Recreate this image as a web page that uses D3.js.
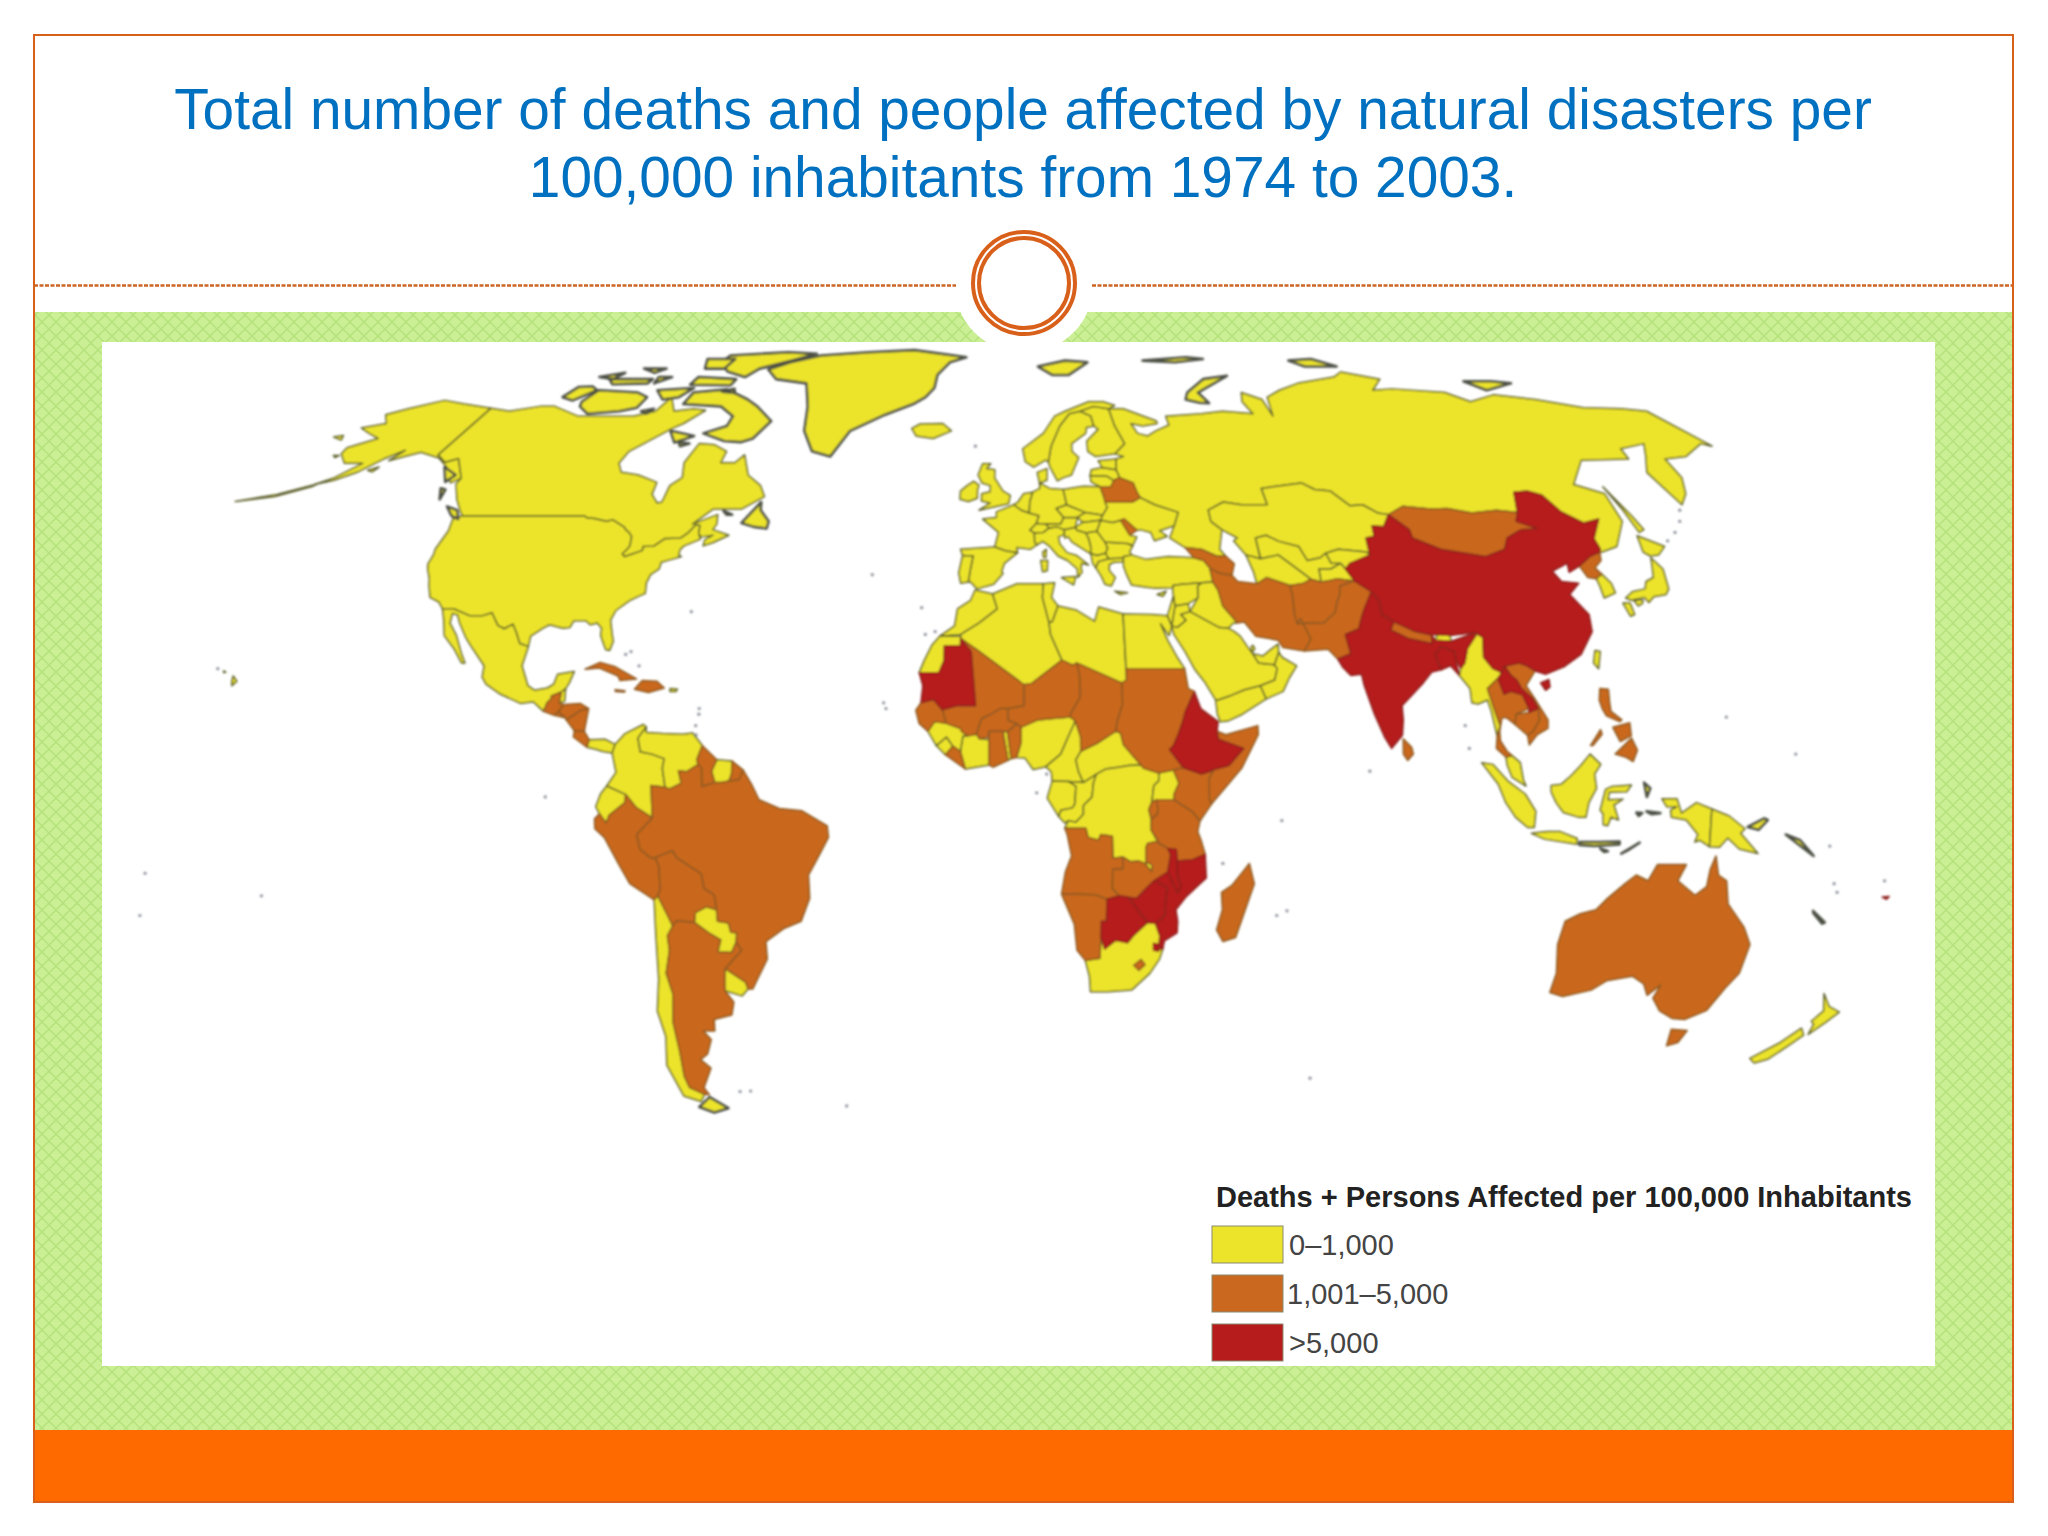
<!DOCTYPE html>
<html>
<head>
<meta charset="utf-8">
<script src="https://cdn.jsdelivr.net/npm/d3@7"></script>
<style>
  html, body { margin: 0; padding: 0; background: #fff; }
  svg { display: block; }
  text { font-family: "Liberation Sans", Arial, sans-serif; }
</style>
</head>
<body>
<svg id="svg" width="2048" height="1536"></svg>
<script>
/* DATA */
const titleLines = ['Total number of deaths and people affected by natural disasters per', '100,000 inhabitants from 1974 to 2003.'];
const legendTitle = 'Deaths + Persons Affected per 100,000 Inhabitants';
const legendLabels = ['0–1,000', '1,001–5,000', '>5,000'];
const bandColors = ['#ECE42B', '#C9681E', '#B61C1C'];
const bandStrokes = ['#5c5e2a', '#8c5a22', '#8e2420'];

// outlines in lon/lat, one list per legend band
const lowLand = [
  ['USA', [-124.7,48.4],[-123,49],[-95.2,49],[-94.6,48.7],[-92.6,48.5],[-89.6,48],[-88.4,48.3],[-84.9,46.9],[-84.5,46.5],[-83.6,46.1],[-82.5,45.3],[-82.1,43.6],[-82.4,43],[-83.1,42.2],[-82.4,41.7],[-79,42.8],[-79.2,43.5],[-76.8,43.6],[-75,44.9],[-71.5,45],[-70.3,45.9],[-69.2,47.4],[-68.2,47.3],[-67.8,45.7],[-67,44.8],[-70.2,43.6],[-70.8,42.9],[-70.7,41.9],[-70,41.7],[-72,41.2],[-74,40.7],[-74,39.5],[-75.5,38.5],[-75.9,37],[-75.5,35.2],[-77,34.6],[-78.5,33.9],[-80.8,32.2],[-81.4,30.5],[-80.5,28],[-80,26.8],[-80.4,25.2],[-81.2,25.3],[-81.8,26.2],[-82.8,27.8],[-82.9,29.1],[-84,30],[-85.4,29.7],[-86.5,30.4],[-89,30.4],[-89.5,29.2],[-90.9,29.1],[-93.8,29.7],[-95,29.1],[-97.2,27.7],[-97.2,25.9],[-99.1,26.4],[-100.3,28.3],[-101.4,29.8],[-103,29],[-104.5,29.6],[-106.5,31.8],[-108.2,31.3],[-111,31.3],[-114.8,32.5],[-117.1,32.5],[-118.4,33.7],[-120.6,34.5],[-121.9,36.6],[-122.5,37.8],[-123.8,39.5],[-124.3,40.4],[-124.2,42],[-124.5,43],[-124,46.3]],
  ['Alaska', [-141,69.6],[-141,60.3],[-137.5,58.9],[-135,59.6],[-130,55.9],[-131.5,55],[-134,56.5],[-136,58],[-140,59.7],[-146,60.8],[-149,60],[-151.8,59.2],[-150.5,61.2],[-153.5,59.5],[-156.5,57],[-160,55.5],[-163.5,54.7],[-160.5,56],[-157.5,58.7],[-162,58.7],[-165.5,60.5],[-166,61.7],[-161,63.5],[-165,64.5],[-169,65.6],[-164,66.5],[-167.5,68.3],[-163.5,69.5],[-157,71.3],[-150,70.5]],
  ['Aleutians', [-163,54.8],[-170,52.9],[-178,51.6],[-170,52.5],[-163.5,54.4]],
  ['St Lawrence', [-173,63.8],[-170,63.2],[-171,64.1]],
  ['Nunivak', [-167,60.2],[-165.5,60.2],[-166,59.8]],
  ['Kodiak', [-154.5,57.4],[-152.5,58],[-153,57.1]],
  ['Hawaii', [-156,20.7],[-155,19.8],[-155.8,19],[-156,19.7]],
  ['Oahu', [-158.2,21.6],[-157.7,21.4],[-158.1,21.3]],
  ['Canada', [-141,69.6],[-135,69],[-128,70],[-124,70],[-115,68],[-108,68],[-100,68],[-95,69],[-94,72],[-90,69],[-85,69.5],[-81.5,69.2],[-85,66.5],[-87,65.5],[-94,61],[-94.5,58.7],[-92.5,57],[-88,56.5],[-82.5,55.1],[-82.2,52.9],[-80,51.3],[-79,51.5],[-79,54.5],[-77,56],[-78.5,58.8],[-77.5,62.5],[-73.5,62.3],[-69.5,61],[-69.5,58.8],[-66,58.8],[-64.5,60.3],[-61.5,56.5],[-57.5,54.5],[-55.7,52.5],[-60,50.2],[-66.5,50.2],[-70,47.5],[-65,49.2],[-64.5,47.5],[-65,46.5],[-61,45.5],[-64,44.2],[-66,43.6],[-66,44.7],[-64.5,45.5],[-67,45.2],[-67.8,45.7],[-68.2,47.3],[-69.2,47.4],[-70.3,45.9],[-71.5,45],[-75,44.9],[-76.8,43.6],[-79.2,43.5],[-79,42.8],[-82.4,41.7],[-83.1,42.2],[-82.4,43],[-82.1,43.6],[-82.5,45.3],[-83.6,46.1],[-84.5,46.5],[-84.9,46.9],[-88.4,48.3],[-89.6,48],[-92.6,48.5],[-94.6,48.7],[-95.2,49],[-123,49],[-124,49.7],[-127,52],[-130,54.8],[-130,55.9],[-135,59.6],[-137.5,58.9],[-141,60.3]],
  ['Iceland', [-24,65.5],[-22,66.4],[-16,66.5],[-13.5,65],[-18,63.5],[-22.5,64]],
  ['Mexico', [-117.1,32.5],[-114.8,32.5],[-111,31.3],[-108.2,31.3],[-106.5,31.8],[-104.5,29.6],[-103,29],[-101.4,29.8],[-100.3,28.3],[-99.1,26.4],[-97.2,25.9],[-97.8,22.5],[-96,19],[-94.5,18.2],[-92,18.6],[-90.8,19.3],[-90.3,21],[-87,21.5],[-87.7,19.5],[-88.3,18.5],[-89.1,17.9],[-91,17.2],[-90.9,16.8],[-91.7,16],[-92.2,14.5],[-94.5,16.2],[-97,15.9],[-101.5,17.6],[-104.5,19.3],[-105.5,20.5],[-105.5,22.5],[-109,26],[-110.5,27.5],[-112.5,30],[-113.5,31.4],[-114.7,31.7],[-114.5,30],[-112.5,27.8],[-110.5,24.5],[-109.5,23],[-110.2,23],[-112.3,25.5],[-115,27.8],[-116,30.5]],
  ['Belize', [-89.1,17.9],[-88.3,18.5],[-88.2,16.3],[-89.2,15.9]],
  ['Panama', [-82.6,9.5],[-79.5,9.6],[-77.4,8.7],[-77.9,7.2],[-80,7.5],[-81,7.8],[-83,8.2]],
  ['Puerto Rico', [-67.2,18.5],[-65.7,18.4],[-66,18],[-67.2,18]],
  ['Colombia', [-77.4,8.7],[-75.5,10.6],[-72,12.2],[-71.4,11.8],[-72.9,9.8],[-72.3,7.4],[-70,7],[-67.5,6.2],[-67.8,4.5],[-67.2,1.2],[-70,1.5],[-69.8,-4.2],[-70.5,-3.7],[-73,-2.3],[-75,-0.1],[-78.8,1.4],[-77,3.8],[-77.9,7.2]],
  ['Venezuela', [-71.4,11.8],[-71.3,10.8],[-68,10.6],[-64,10.5],[-62,10.7],[-60,8.5],[-61,6],[-60.7,5.2],[-63,3.9],[-64.6,4.1],[-64,1.9],[-66.3,0.9],[-67.2,1.2],[-67.8,4.5],[-67.5,6.2],[-70,7],[-72.3,7.4],[-72.9,9.8]],
  ['Suriname', [-57,6],[-54,5.8],[-54,3.6],[-54.5,2.3],[-56,2],[-57.3,2],[-58,4]],
  ['Ecuador', [-78.8,1.4],[-75,-0.1],[-75.2,-1.5],[-78.4,-3.7],[-79,-5],[-80.3,-3.4],[-81,-2.2],[-80,0]],
  ['Paraguay', [-58,-20],[-58,-22],[-55.8,-22.3],[-55.5,-23.9],[-54.3,-24],[-54.6,-25.6],[-55.8,-27.4],[-58.6,-27.3],[-57.7,-25.2],[-60,-24],[-62.7,-22.2],[-62.3,-20.5],[-60,-19.5]],
  ['Uruguay', [-57.6,-30.2],[-53.8,-32.5],[-53.5,-33.7],[-55,-34.9],[-58.4,-34],[-58,-32]],
  ['Chile', [-69.6,-17.6],[-68,-21],[-67.2,-22.8],[-68.5,-24.5],[-68.5,-27],[-70,-31],[-69.5,-34.5],[-71,-39.5],[-71.5,-44.5],[-72.5,-49],[-72.3,-51],[-69.5,-52.2],[-71,-53.5],[-74.5,-52.5],[-75.5,-47],[-73.5,-42],[-73.7,-37.5],[-71.8,-32],[-70.8,-24],[-70.4,-18.3]],
  ['Morocco', [-5.9,35.8],[-2.2,35.1],[-1.2,32.5],[-5,30],[-8.7,28],[-13,27.7],[-10,29.5],[-9.5,32.5],[-6.8,34]],
  ['W Sahara', [-13,27.7],[-8.7,27.7],[-8.7,26],[-12,26],[-12,23.4],[-13,21.3],[-17,21.3],[-16,23.5],[-14.5,26.2]],
  ['Algeria', [-2.2,35.1],[3,36.9],[8.6,36.9],[8.3,34.5],[9.5,30.2],[9.8,28],[12,23.5],[5.8,19.4],[3.3,19],[3.3,19.8],[-4.8,25],[-8.7,27.3],[-8.7,28],[-5,30],[-1.2,32.5]],
  ['Tunisia', [8.6,36.9],[11,37.1],[10.2,34.5],[11.5,33],[10.2,30.2],[9.5,30.2],[8.3,34.5]],
  ['Libya', [11.5,33],[15.2,32.3],[19,30.3],[20,32.8],[25,31.6],[25,20],[24,19.5],[15,23],[14.2,22.6],[12,23.5],[9.8,28],[9.5,30.2],[10.2,30.2]],
  ['Egypt', [25,31.6],[31,31.5],[34.2,31.3],[34.9,29.5],[34.2,27.8],[32.6,29.9],[33.8,27],[35.5,24],[36.9,22],[25,22]],
  ['Nigeria', [3.6,11.7],[7,13],[10.5,13.3],[13.5,13.5],[14.5,12.8],[13,10],[11.5,7],[8.5,4.8],[6,4.3],[4.4,6.3],[2.7,6.4],[3.6,9]],
  ['Cameroon', [14.5,12.8],[15.5,10],[15.5,7.5],[14.5,6],[15,4],[16,2],[13,2.2],[9.8,2.3],[9.6,3.9],[8.5,4.8],[11.5,7],[13,10]],
  ['CAR', [15.5,7.5],[19,9],[22.5,11],[23.5,10.7],[24,8.7],[28,4.5],[27.4,5.1],[25,5],[23,4.7],[20.5,4.4],[18.6,3.5],[16,2],[15,4],[14.5,6]],
  ['Gabon', [9.8,2.3],[13,2.2],[14.5,1.4],[14.3,-1.7],[13.8,-2.4],[11.5,-2.8],[11.1,-3.9],[8.8,-0.7]],
  ['Congo', [13,2.2],[16,2],[18.6,3.5],[18,2],[17.7,-0.5],[16,-2],[16,-3.5],[14.5,-4.9],[13,-4.6],[12.3,-5],[11.1,-3.9],[11.5,-2.8],[13.8,-2.4],[14.3,-1.7],[14.5,1.4]],
  ['DRC', [31,3.7],[31,2.3],[30,1.5],[29.6,-1.4],[29,-2.7],[29.5,-4.4],[29.5,-6.2],[30.8,-8.2],[28.9,-8.5],[28.5,-9.2],[28.6,-11.8],[29.8,-12.2],[29.8,-13.4],[28.4,-12],[27.2,-11.6],[25.5,-11.7],[24,-10.9],[22,-11.1],[21.8,-7.3],[19.5,-7],[19,-8],[17,-7.5],[16.5,-5.9],[12.3,-5.9],[13,-4.6],[14.5,-4.9],[16,-3.5],[16,-2],[17.7,-0.5],[18,2],[18.6,3.5],[20.5,4.4],[23,4.7],[25,5],[27.4,5.1],[28,4.5]],
  ['Uganda', [33.9,4.2],[35,1.9],[34,0],[34,-1],[30.5,-1],[29.6,-1.4],[30,1.5],[31,2.3],[31,3.7]],
  ['Togo', [1.6,6.2],[0.9,10.9],[0,11],[0.6,8],[1,5.9]],
  ['Cote d Ivoire', [-8.5,7.5],[-8,10.2],[-7,10.2],[-5.3,10.5],[-4.7,9.7],[-2.8,9.5],[-2.8,5.1],[-7.5,4.4]],
  ['Sierra Leone', [-13.3,8.5],[-11.3,10],[-10,8.4],[-11.5,6.9]],
  ['Guinea', [-15,11],[-13.7,12.7],[-11.4,12.4],[-8.5,11.5],[-8.3,11],[-7,10.2],[-8,10.2],[-8.5,7.5],[-10,8.4],[-11.3,10],[-13.3,8.5]],
  ['South Africa', [17,-28.8],[20,-28.4],[20,-24.8],[20.9,-26.8],[23,-25.3],[25.5,-25.7],[26.8,-24.3],[29.4,-22.2],[31,-22.4],[32,-24.5],[32,-26.8],[32.8,-26.8],[32.3,-28.5],[30.5,-31],[27,-33.9],[22,-34.2],[18.4,-34.2],[18,-31.5]],
  ['Turkey', [26,40],[26.2,41.7],[28,42],[31,41.2],[36,41.7],[41.5,41.5],[43.5,41],[44.5,39.7],[44.7,37.2],[42.3,37.1],[38,36.8],[36.1,36.6],[36,36.2],[32.5,36.1],[30.5,36.3],[27.3,36.7],[26.5,38.5]],
  ['Iraq', [42.3,37.1],[44.7,37.2],[45.5,35.8],[46,33],[47.7,31],[48.5,30],[47.7,30],[46.5,29.1],[44.7,29.2],[39,32],[41,34.4],[41.3,36.5]],
  ['Syria', [36.1,36.6],[38,36.8],[42.3,37.1],[41.3,36.5],[41,34.4],[38.8,33.4],[36,33],[35.9,35.5]],
  ['Jordan', [36,33],[38.8,33.4],[39,32],[37,31.5],[38,30.5],[36,29.2],[34.9,29.5],[35.5,31.5]],
  ['Israel', [35.9,34.7],[36,33],[35.5,31.5],[34.9,29.5],[34.2,31.3]],
  ['Saudi Arabia', [34.9,29.5],[36,29.2],[38,30.5],[37,31.5],[39,32],[44.7,29.2],[46.5,29.1],[47.7,28.5],[48.8,27.7],[50.2,25.6],[51,24.6],[52,23],[55.2,22.7],[55.7,22],[55,20],[52,19],[48.8,18.3],[46,17.3],[43.3,16.5],[42.8,16.5],[40.7,19.8],[39,21.8],[37.2,25],[35.2,28]],
  ['Yemen', [42.8,16.5],[43.3,16.5],[46,17.3],[48.8,18.3],[52,19],[53,16.7],[48,14],[45,12.8],[43.5,12.7],[43,14]],
  ['Oman', [52,19],[55,20],[55.7,22],[55.2,22.7],[56.3,24.9],[56.9,24],[59.7,22.5],[58,20.4],[56.5,18],[53,16.7]],
  ['UAE', [51,24.6],[52,23],[55.2,22.7],[56.3,24.9],[56.4,26.3],[55,25.5],[53,24.2]],
  ['Qatar', [50.8,24.8],[51.5,25.5],[51.2,26.1],[50.8,25.8]],
  ['Russia', [28,59.5],[30,60],[28,60.5],[31,62.5],[29.5,66],[29,69.5],[33,69.5],[41,67],[41,66.5],[37,66],[34,66.5],[35,64.5],[37.5,64],[40,65],[44,66.2],[44,68],[54,68.5],[60,69],[68,68.5],[67,71],[68.5,73],[73,71.5],[73,68],[75,72],[80,73.5],[87,75],[100,76.5],[104,77.7],[113,76],[107,73.5],[113,73.8],[127,73],[131,71],[140,72.5],[150,71.5],[160,69.7],[170,69.5],[176,69],[180,62],[178,62.5],[170,60],[164,59.5],[163,56],[160,53],[156.7,51],[156,57],[160,60],[163.5,62.5],[156,61.5],[155,59.5],[143,59.3],[135.5,54.7],[141,53],[140,48],[135,43.5],[131,42.5],[130.5,42.5],[131,43],[131,44.9],[135,48.4],[131,47.7],[127.5,49.8],[126,52.8],[123.5,53.5],[120,53.3],[117.5,49.6],[113,50],[107,49.5],[102,50.3],[98,50.2],[92,50.7],[87.8,49.2],[85.5,49.5],[83,51],[80,50.8],[77,53.5],[73.5,53.8],[71,55],[61,54],[61,51],[55,51],[51,51.5],[47,50],[47,48],[49,46.5],[47.5,43],[48.5,41.8],[46.5,41.8],[43.5,43],[40,43.3],[37,45],[38.5,47.2],[40,49.6],[35,51],[32,52.3],[31.5,53.2],[31,55],[28,56],[27.5,57.5]],
  ['Sakhalin', [142,54.3],[143,49],[143.5,46.5],[142,46],[142,50]],
  ['Kazakhstan', [47,50],[47,48],[49,46.5],[52,45],[51,44.5],[53,42],[55.9,41.3],[56,45],[58.5,45.5],[61,44.4],[65,43.5],[66,41],[69,41.5],[70.5,42.3],[73.5,43],[79.5,42.5],[80,42],[80.5,45],[82.5,45.3],[83,47.2],[85.5,47],[87.8,49.2],[85.5,49.5],[83,51],[80,50.8],[77,53.5],[73.5,53.8],[71,55],[61,54],[61,51],[55,51],[51,51.5]],
  ['Uzbekistan', [56,45],[58.5,45.5],[61,44.4],[65,43.5],[66,41],[69,41.5],[70.5,42.3],[71,40.5],[73,40.5],[70.5,39.5],[68,39.5],[67.8,37.2],[65.7,37.7],[62,40.5],[60,42],[56,41.3]],
  ['Turkmenistan', [53,42],[55.9,41.3],[56,41.3],[60,42],[62,40.5],[65.7,37.7],[64,37],[61,36.6],[56.3,38],[54,36.9],[53.8,39]],
  ['Kyrgyzstan', [70.5,42.3],[73.5,43],[79.5,42.5],[80,42],[75,40.5],[73.7,39.5],[73,40.5],[71,40.5]],
  ['Tajikistan', [67.8,37.2],[68,39.5],[70.5,39.5],[73,40.5],[73.7,39.5],[74.9,37.4],[71.2,37.8],[70,37.5]],
  ['Bhutan', [88.8,27],[89.5,28],[92,27.8],[92,26.8]],
  ['Honshu', [140.9,41.5],[142,39.5],[141,36],[139.8,35],[137,34.6],[135.5,33.6],[135,34.5],[132,34],[131,34.4],[133,35.5],[136,36],[137,37.3],[139,38],[140,40]],
  ['Hokkaido', [141,45.4],[145.5,43.5],[143,42],[141,41.8],[140,42.5]],
  ['Kyushu', [130,33.5],[131.5,33.5],[131.5,31.5],[130.5,31.2]],
  ['Shikoku', [132.5,34],[134.5,34],[134,33.4],[133,33]],
  ['South Korea', [126.7,37.8],[128.3,38.6],[129.4,37],[129.3,35.3],[126.5,34.4],[126.7,36.5]],
  ['Taiwan', [121,25.2],[122,25],[121,22],[120.2,23]],
  ['Myanmar', [92.5,20.8],[93,22],[94,23],[95,25.5],[97.3,27.8],[97.3,28.3],[98.7,27.5],[98,24],[99.5,22],[101.2,21.3],[100.2,20.3],[97.8,18.5],[98.5,15.3],[99.5,12],[98.7,10.2],[98,14.5],[97.5,16.5],[95.5,15.8],[94.3,16],[94.3,18.5]],
  ['Malaysia', [100.2,6.5],[101.5,6.7],[103,5.5],[103.5,2.5],[104,1.4],[101.3,2.9],[100.4,5]],
  ['Sumatra', [95.3,5.5],[97.5,5.2],[100.5,2.2],[103.8,0],[106,-3],[105.8,-5.8],[104.5,-5.8],[102,-4],[100,-1.5],[98.5,1.7]],
  ['Java', [105.3,-6.8],[108.5,-6.5],[111,-6.5],[114.5,-7.7],[114.5,-8.7],[108,-7.8]],
  ['Borneo', [109,1.5],[111,1.7],[113,3.2],[115,5],[117,7],[119,5.2],[117.7,3.5],[118,1],[116.5,-1.5],[116,-4],[114.5,-4],[111.5,-3.2],[110,-1.5],[109,0.3]],
  ['Sulawesi', [119.8,0.8],[121,1.3],[125,1.6],[124,0.4],[120.5,0.3],[120.3,-1],[123.3,-0.9],[121.5,-1.9],[122.5,-4.5],[121,-4],[120.4,-5.5],[119.5,-5.3],[119.4,-3.4],[118.8,-2.8]],
  ['W New Guinea', [131,-0.8],[134,-0.8],[135,-3.3],[137.9,-1.5],[141,-2.6],[141,-9.1],[139,-8],[138,-8.3],[138.5,-7],[136,-4.5],[133,-4],[132.8,-2.8],[134,-2.2],[132,-2.2]],
  ['PNG', [141,-2.6],[144.5,-3.8],[147.8,-6],[147,-6.8],[150.8,-10.3],[147,-9.5],[144.5,-7.6],[143,-9.2],[141,-9.1]],
  ['New Zealand N', [172.8,-34.5],[175.5,-36.7],[178.5,-37.7],[177,-39.5],[175.2,-41.6],[174.7,-39.8],[173.8,-39.3],[175,-37.5]],
  ['New Zealand S', [172.7,-40.5],[174.3,-41.7],[172.8,-43.5],[170.7,-45.9],[168.3,-46.6],[166.5,-45.8],[170.5,-43]],
  ['UK', [-5.5,50],[1.3,51.2],[1.7,52.7],[0,53.5],[-2,55.9],[-2,57.5],[-4,57.7],[-3,58.6],[-5,58.6],[-6,56.5],[-5,55],[-3,54.5],[-3,53.4],[-5,53],[-5,51.7],[-3,51.3]],
  ['Ireland', [-6,52.2],[-6,53.8],[-5.7,54.6],[-7,55.3],[-8.5,54.5],[-10,53.5],[-10,52],[-8,51.6]],
  ['France', [-1.8,43.4],[-1,46],[-4.6,48.4],[-1.5,48.7],[-1.5,49.7],[2.5,51],[4.2,50],[6,49.5],[8.2,49],[7.5,47.6],[6,46.4],[7,45.9],[7,44.2],[7.5,43.8],[6,43],[3,43.3],[3.2,42.4],[0.7,42.7]],
  ['Spain', [-9.3,43],[-1.8,43.4],[0.7,42.7],[3.2,42.4],[0.3,40.5],[-0.3,39],[0,38.7],[-2,36.8],[-5.5,36],[-6.9,37.2],[-7.4,37.2],[-7,39.5],[-6.5,41.8],[-8.8,41.9]],
  ['Portugal', [-8.8,41.9],[-6.5,41.8],[-7,39.5],[-7.4,37.2],[-9,37],[-9.5,38.8]],
  ['Benelux', [2.5,51],[3.5,51.5],[4.8,53],[7,53.3],[6.2,51.5],[6,49.5],[4.2,50]],
  ['Germany', [7,53.3],[8.7,54],[8.7,55],[11,54],[14.2,53.8],[14.7,51],[12.2,50.3],[13.8,48.7],[13,47.5],[7.5,47.6],[8.2,49],[6,49.5],[6.2,51.5]],
  ['Denmark', [8.7,55],[8.3,57],[10.7,57.7],[10.5,55.5]],
  ['Switzerland', [6,46.4],[7.5,47.6],[9.6,47.5],[10.4,46.8],[9,46],[7,45.9]],
  ['Italy', [7,45.9],[9,46],[10.4,46.8],[12.2,47],[13.7,46.5],[13.7,45.6],[12.3,45.2],[12.5,44],[14,42.4],[16,41.9],[18.5,40.2],[17,40.5],[16.8,39.5],[17,39],[16,38],[16,39.5],[14,41],[12,41.8],[10.3,43.5],[8.8,44.4],[7.5,43.8],[7,44.2]],
  ['Sicily', [12.5,38],[15.6,38.2],[15,36.7]],
  ['Sardinia', [8.2,41],[9.7,41],[9.5,39.2],[8.5,39]],
  ['Corsica', [8.7,42.5],[9.5,43],[9.3,41.5],[8.8,41.6]],
  ['Austria', [9.6,47.5],[13,47.5],[13.8,48.7],[16.9,48.7],[16.2,46.9],[13.7,46.5],[12.2,47],[10.4,46.8]],
  ['Czechia', [12.2,50.3],[14.7,51],[18.8,49.6],[16.9,48.7],[13.8,48.7]],
  ['Poland', [14.2,53.8],[19,54.4],[23,54.3],[23.6,52],[24,50.5],[22.7,49.1],[18.8,49.6],[14.7,51]],
  ['Slovakia', [16.9,48.7],[18.8,49.6],[22.7,49.1],[22.1,48.2],[18,47.8]],
  ['Hungary', [16.2,46.9],[18,47.8],[22.1,48.2],[21,46.2],[18.5,45.9],[16.5,46.4]],
  ['Croatia Bosnia', [13.7,45.6],[13.7,46.5],[16.2,46.9],[16.5,46.4],[18.5,45.9],[19,44.9],[19.3,43.5],[19.2,42.2],[18,42.8],[15.2,44.3],[14.5,45.2],[13.7,45]],
  ['Serbia', [19,44.9],[18.5,45.9],[21,46.2],[22.5,44.5],[23,43.2],[22.4,42.3],[20.5,41.9],[19.2,42.2],[19.3,43.5]],
  ['Albania Macedonia', [19.2,42.2],[20.5,41.9],[22.4,42.3],[23,41.3],[20.7,40.8],[20,39.7],[19.4,40.5]],
  ['Greece', [20,39.7],[20.7,40.8],[23,41.3],[26.2,41.5],[26,40.8],[24,40.7],[23,40.3],[22.8,39.3],[24,38],[23,36.5],[21.7,36.8],[21,38.3]],
  ['Crete', [23.6,35.6],[26.3,35.3],[24.8,35]],
  ['Cyprus', [32.5,35],[34.5,35.6],[33.7,34.7]],
  ['Bulgaria', [22.4,42.3],[23,43.2],[22.5,44.3],[27.5,44],[28.5,43.5],[27.7,42.6],[28,42],[26.2,41.7],[26.2,41.5],[23,41.3]],
  ['Romania', [21,46.2],[22.1,48.2],[24.8,47.8],[26.6,48.2],[28.2,45.5],[29.7,45.2],[28.6,43.7],[27.5,44],[22.5,44.3]],
  ['Ukraine', [22.1,48.2],[22.7,49.1],[24,50.5],[23.6,51.5],[30,51.5],[32,52.3],[35,51],[40,49.6],[38.5,47.2],[35,46.3],[36.5,45.3],[33.5,44.5],[33,46],[30.7,46.5],[30,46.4],[27.5,48.4],[26.6,48.2],[24.8,47.8]],
  ['Lithuania', [21,55.2],[21,56.4],[25,56.3],[26.5,55.5],[25.5,54.3],[23,54.3]],
  ['Latvia', [21,56.4],[21.5,57.5],[24.3,57.9],[27.5,57.5],[28,56],[26.5,55.5],[25,56.3]],
  ['Estonia', [24.3,57.9],[23.5,59.2],[28,59.5],[27.5,57.5]],
  ['Finland', [23,60],[21.3,61],[21.5,63],[25,65.3],[24,66],[23.7,68],[21,69],[25,70],[29,69.5],[29.5,66],[31,62.5],[28,60.5]],
  ['Sweden', [11.2,59],[11.5,58],[13,55.4],[14.5,56],[16.5,56.5],[18.8,59.8],[17.3,61],[17.5,62.5],[21.5,64.5],[22,65.7],[24,66],[23.7,68],[21,69],[18,68.5],[15,66],[12.2,62]],
  ['Norway', [5,61.5],[5.5,59],[7.5,58],[10.5,59.3],[11.2,59],[12.2,62],[15,66],[18,68.5],[21,69],[25,70],[29,69.5],[31,70.2],[28,71],[24,71],[17,69],[14,68],[10.5,64.5]]
];

// same band, but broken coasts that read as heavy dark outline in the picture
const fringeLand = [
  ['Greenland', [-73,78.3],[-68,80],[-60,82],[-45,83],[-30,83.6],[-12,81.5],[-17,80],[-20,77],[-20,74],[-22,72],[-25,70.5],[-32,68.3],[-40,65],[-43,60],[-48,61],[-52,65],[-54,70],[-58,75],[-68,76]],
  ['Baffin', [-80,73.7],[-72,71.5],[-68,70],[-62,67],[-64.5,63.5],[-67,62.8],[-71.5,63],[-78,64.5],[-73,66],[-73,68],[-78,70],[-89,70.5],[-89,73]],
  ['Victoria', [-105,73],[-117,73.5],[-118,71],[-117,70],[-113,68.5],[-105,69],[-101,69.7],[-101,72]],
  ['Banks', [-125,72],[-121,71.3],[-117.5,73.5],[-120,74.3],[-124,74.2]],
  ['Ellesmere', [-62,82.5],[-72,83],[-90,82],[-90,80],[-85,77.8],[-78,76.5],[-76,78.5],[-68,80.5]],
  ['Devon', [-80,76],[-92,76.5],[-92,74.7],[-80,74.6]],
  ['Axel Heiberg', [-87,81],[-96,81],[-93,78.5],[-87,78.5]],
  ['Melville', [-105,76],[-118,76],[-115,74.8],[-105,75]],
  ['Somerset', [-90,74],[-100,73.5],[-96,71.5],[-92,72]],
  ['Southampton', [-80,64],[-87,65],[-84,62.7]],
  ['Prince Patrick', [-122,76.5],[-116,77.5],[-117,76]],
  ['Bathurst', [-100,76.5],[-104,76.5],[-103,75]],
  ['Ellef Ringnes', [-105,78.5],[-112,78.5],[-107,77.5]],
  ['King William', [-96,69.5],[-99,69],[-97,68.5]],
  ['Bylot', [-78,73.8],[-81,73.2],[-77,72.9]],
  ['Coats', [-83,62.8],[-80,62.5],[-82,62]],
  ['Anticosti', [-64,49.9],[-61.7,49.2],[-63,49.2]],
  ['Newfoundland', [-59,47.7],[-56,51.5],[-55.5,50],[-53,48],[-53,46.7],[-56,47]],
  ['Vancouver', [-128,50.7],[-125,50],[-123.5,48.4],[-125.5,49]],
  ['Haida', [-132.8,54],[-131.5,53.8],[-131,52]],
  ['Alexander', [-136.5,58],[-133,55.2],[-132,56.5]],
  ['Tierra del Fuego', [-68.6,-52.7],[-65.2,-54.7],[-69,-55.5],[-72,-54.5]],
  ['Novaya Zemlya', [51.5,71.5],[55,70.8],[57.5,70.7],[56,73],[68,76.8],[60,76],[53,73]],
  ['Svalbard', [11,79],[20,80.5],[27,80],[20,77],[15,77]],
  ['Franz Josef', [45,80.5],[60,81.5],[65,81],[55,80]],
  ['Severnaya Zemlya', [95,79],[105,79],[100,81],[92,80.5]],
  ['New Siberian', [137,75.5],[145,75.5],[150,75],[140,73.5]],
  ['Lesser Sunda', [115,-8.3],[119,-8.3],[123,-8.2],[123,-8.7],[118,-9],[115,-8.8]],
  ['Timor', [123.5,-10.3],[127,-8.4],[125,-9.6]],
  ['Sumba', [119.2,-9.4],[120.8,-9.9],[120,-10]],
  ['New Britain', [148.3,-5.7],[151.5,-4.2],[152.2,-4.5],[150.5,-6.2]],
  ['Solomons', [156,-7],[160,-9.5],[162,-10.7],[159,-8]],
  ['Halmahera', [127.5,2],[128.7,1],[128,-0.5]],
  ['Seram', [128,-3],[130.8,-3.3],[129,-3.5]],
  ['Buru', [126,-3.2],[127.2,-3.3],[126.5,-3.8]],
  ['New Caledonia', [164,-20.2],[167,-22.2],[166.5,-22.4],[164.2,-20.6]]
];

const midLand = [
  ['Guatemala', [-91.7,16],[-90.9,16.8],[-91,17.2],[-89.1,17.9],[-89.2,15.9],[-88.3,15.7],[-89.2,14.4],[-90,13.8],[-92.2,14.5]],
  ['Honduras', [-88.3,15.7],[-85,15.9],[-83.2,15],[-84.7,14.7],[-86,13.9],[-87.5,13],[-87.8,13.4],[-89.2,14.4]],
  ['El Salvador', [-89.2,14.4],[-87.8,13.4],[-90,13.8]],
  ['Nicaragua', [-83.2,15],[-83.7,11],[-85.7,11.1],[-87.5,13],[-86,13.9],[-84.7,14.7]],
  ['Costa Rica', [-83.7,11],[-82.6,9.5],[-83,8.2],[-85.8,10],[-85.7,11.1]],
  ['Cuba', [-84.9,21.9],[-82,23.1],[-79,22.4],[-74.2,20.2],[-77.5,19.9],[-78,20.7],[-82,22.1]],
  ['Hispaniola', [-74.4,18.4],[-73,19.9],[-70,19.8],[-68.4,18.6],[-71.5,17.8]],
  ['Jamaica', [-78.3,18.3],[-76.3,18.1],[-76.3,17.9],[-78.2,18]],
  ['Guyana', [-60,8.5],[-57,6],[-58,4],[-57.3,2],[-59.9,1.3],[-60,4.5],[-60.7,5.2],[-61,6]],
  ['French Guiana', [-54,5.8],[-51.7,4.2],[-52.5,2.5],[-54.5,2.3],[-54,3.6]],
  ['Peru', [-80.3,-3.4],[-79,-5],[-78.4,-3.7],[-75.2,-1.5],[-75,-0.1],[-73,-2.3],[-70.5,-3.7],[-69.8,-4.2],[-73,-7],[-72.5,-9.5],[-70.5,-11],[-69.5,-11],[-68.9,-12.5],[-69,-16.5],[-69.6,-17.6],[-70.4,-18.3],[-75,-15.5],[-77,-12],[-79.5,-7.5],[-81.3,-6],[-81.3,-4.3]],
  ['Brazil', [-51.7,4.2],[-50,1.7],[-48.5,-1],[-44.5,-2.5],[-40,-2.9],[-35,-5.5],[-34.8,-7.5],[-37,-11],[-39,-14],[-39,-18],[-41,-22],[-44.5,-23.2],[-48.5,-25.5],[-48.6,-28.5],[-52.5,-33.7],[-53.5,-33.7],[-53.8,-32.5],[-57.6,-30.2],[-53.7,-27],[-54.6,-25.6],[-54.3,-24],[-55.5,-23.9],[-55.8,-22.3],[-58,-22],[-58,-20],[-58.2,-17.5],[-60.2,-16.3],[-60.5,-13.8],[-65.3,-11],[-66,-9.8],[-69.5,-11],[-70.5,-11],[-72.5,-9.5],[-73,-7],[-69.8,-4.2],[-70,1.5],[-67.2,1.2],[-66.3,0.9],[-64,1.9],[-64.6,4.1],[-63,3.9],[-60.7,5.2],[-60,4.5],[-59.9,1.3],[-57.3,2],[-56,2],[-54.5,2.3],[-52.5,2.5]],
  ['Bolivia', [-69.5,-11],[-66,-9.8],[-65.3,-11],[-60.5,-13.8],[-60.2,-16.3],[-58.2,-17.5],[-58,-20],[-60,-19.5],[-62.3,-20.5],[-62.7,-22.2],[-66.3,-21.9],[-67.2,-22.8],[-68,-21],[-69.6,-17.6],[-69,-16.5],[-68.9,-12.5]],
  ['Argentina', [-66.3,-21.9],[-62.7,-22.2],[-60,-24],[-57.7,-25.2],[-58.6,-27.3],[-55.8,-27.4],[-54.6,-25.6],[-53.7,-27],[-57.6,-30.2],[-58,-32],[-58.4,-34],[-57,-36],[-58,-38.2],[-62,-39],[-62.5,-41],[-65,-41],[-63.8,-42.5],[-65.5,-45],[-67.5,-46],[-65.8,-47.5],[-69,-51],[-68.4,-52.3],[-69.5,-52.2],[-72.3,-51],[-72.5,-49],[-71.5,-44.5],[-71,-39.5],[-69.5,-34.5],[-70,-31],[-68.5,-27],[-68.5,-24.5],[-67.2,-22.8]],
  ['Sudan', [24,19.5],[25,20],[25,22],[36.9,22],[37.4,18.5],[38.6,18],[36.5,14.3],[36,12.7],[35,10.5],[34,8.5],[33.2,7.8],[35.9,4.6],[33.9,4.2],[31,3.7],[28,4.5],[24,8.7],[23.5,10.7],[22.5,11],[22.9,12.9],[24,15.7]],
  ['Chad', [15,23],[24,19.5],[24,15.7],[22.9,12.9],[22.5,11],[19,9],[15.5,7.5],[15.5,10],[14.5,12.8],[13.5,13.5],[13.5,14],[15.5,17],[15.5,20.9]],
  ['Niger', [4.2,19.2],[5.8,19.4],[12,23.5],[14.2,22.6],[15,23],[15.5,20.9],[15.5,17],[13.5,14],[13.5,13.5],[10.5,13.3],[7,13],[3.6,11.7],[2.8,12.3],[1,12.9],[1,15],[3.5,15.4],[4.2,15.5]],
  ['Mali', [-8.7,27.3],[-4.8,25],[3.3,19.8],[4.2,19.2],[4.2,15.5],[3.5,15.4],[1,15],[-0.5,15],[-2,14.2],[-4.3,13.2],[-5.3,10.5],[-7,10.2],[-8.3,11],[-8.5,11.5],[-11.4,12.4],[-12.2,14.8],[-9.3,15.5],[-5.5,15.5],[-6.5,25]],
  ['Burkina Faso', [-5.3,10.5],[-4.3,13.2],[-2,14.2],[-0.5,15],[1,15],[1,12.9],[2.8,12.3],[0.9,10.9],[0,11],[-2.8,11],[-3,9.9],[-4.7,9.7]],
  ['Ghana', [1,5.9],[0.6,8],[0,11],[-2.8,11],[-2.8,9.5],[-2.8,5.1],[-2,4.7]],
  ['Benin', [2.7,6.4],[3.6,9],[3.6,11.7],[2.8,12.3],[0.9,10.9],[1.6,6.2]],
  ['Liberia', [-11.5,6.9],[-10,8.4],[-8.5,7.5],[-7.5,4.4]],
  ['Senegal', [-17.5,14.7],[-16.5,16],[-14,16.6],[-12.2,14.8],[-11.4,12.4],[-13.7,12.7],[-15,11],[-16.8,12.4]],
  ['Somalia', [42.8,11],[44.5,10.4],[51,12],[51,10.4],[47.5,4.5],[41.5,-1.7],[41,-0.9],[41,2.8],[42,4.3],[45,5],[48,8],[43,9.6]],
  ['Kenya', [41,3.9],[42,4.3],[41,2.8],[41,-0.9],[41.5,-1.7],[39.2,-4.7],[37.7,-3.1],[34,-1],[34,0],[35,1.9],[33.9,4.2],[35.9,4.6],[39.5,3.5]],
  ['Tanzania', [34,-1],[37.7,-3.1],[39.2,-4.7],[38.8,-6.5],[39.5,-8],[40.4,-10.4],[38,-11.3],[34.9,-11.6],[34.6,-9.6],[32.9,-9.4],[31.2,-8.6],[29.5,-6.2],[29.5,-4.4],[30.8,-3.3],[30.5,-2.4],[30.5,-1]],
  ['Rwanda Burundi', [29.6,-1.4],[30.5,-1],[30.8,-2.4],[30.8,-3.3],[29.5,-4.4],[29,-2.7]],
  ['Angola', [12.3,-5.9],[16.5,-5.9],[17,-7.5],[19,-8],[19.5,-7],[21.8,-7.3],[22,-11.1],[24,-10.9],[24,-13],[22,-13],[22,-16.3],[23.4,-17.6],[21,-18.2],[18.5,-17.4],[13.5,-17.3],[11.8,-17.3],[12.5,-13.5],[13.7,-10.7],[12.8,-7]],
  ['Zambia', [31.2,-8.6],[32.9,-9.4],[33.5,-10.5],[33,-13.5],[30.3,-15],[28.8,-16.3],[27,-18],[25.2,-17.8],[23.4,-17.6],[22,-16.3],[22,-13],[24,-13],[24,-10.9],[25.5,-11.7],[27.2,-11.6],[28.4,-12],[29.8,-13.4],[29.8,-12.2],[28.6,-11.8],[28.5,-9.2],[28.9,-8.5],[30.8,-8.2]],
  ['Namibia', [11.8,-17.3],[13.5,-17.3],[18.5,-17.4],[21,-18.2],[21,-22],[20,-22],[20,-28.4],[17,-28.8],[15.2,-27],[14.5,-22.5]],
  ['Lesotho', [27,-29.6],[28.5,-28.6],[29.4,-29.5],[28.2,-30.5]],
  ['Madagascar', [49.3,-12],[50.5,-15.5],[47.5,-24.8],[45,-25.5],[43.5,-23.5],[44.4,-20],[44,-17],[46,-15.8],[48,-13.5]],
  ['Caucasus', [41.5,41.5],[40,43.3],[43.5,43],[46.5,41.8],[48.5,41.8],[50,40.4],[49,38.4],[46.2,38.8],[44.5,39.7],[43.5,41]],
  ['Iran', [44.5,39.7],[46.2,38.8],[49,38.4],[50,37.3],[54,36.9],[56.3,38],[61,36.6],[61,34.5],[60.7,31.5],[61.8,30.8],[63.3,27.2],[61.6,25.1],[57.3,25.7],[56.5,27],[52,27.7],[50,30.2],[48.5,30],[47.7,31],[46,33],[45.5,35.8],[44.7,37.2]],
  ['Afghanistan', [61,36.6],[64,37],[65.7,37.7],[67.8,37.2],[70,37.5],[71.2,37.8],[74.9,37.4],[71.5,36.5],[71,35],[70,33.5],[69.3,31.9],[66.4,30],[60.9,29.9],[60.7,31.5],[61,34.5]],
  ['Pakistan', [74.9,37.4],[77.8,35.5],[75.5,32.5],[74.5,31],[73.5,29],[70.5,28],[71,24.6],[68.2,23.7],[66.5,25.4],[61.6,25.1],[63.3,27.2],[61.8,30.8],[60.9,29.9],[66.4,30],[69.3,31.9],[70,33.5],[71,35],[71.5,36.5]],
  ['Mongolia', [87.8,49.2],[92,50.7],[98,50.2],[102,50.3],[107,49.5],[113,50],[117.5,49.6],[116,48],[119.8,46.7],[116,46.5],[111.8,45],[110,43],[105,41.7],[96,43],[90.8,45],[91,46.5]],
  ['Nepal', [80,28.8],[81,30.2],[85,28.5],[88.2,27.9],[88,26.4],[83.3,27.3]],
  ['North Korea', [124.3,40],[128,41.8],[130.5,42.5],[129.7,41],[127.5,39.7],[128.3,38.6],[126.7,37.8],[125,38]],
  ['Thailand', [97.8,18.5],[100.2,20.3],[101,17.5],[102.5,18],[104.7,17.4],[105.6,15],[102.9,14],[102.5,12.2],[100.9,13.4],[100,13.4],[99.3,11],[99.3,9.3],[100.5,7.5],[101.5,6.7],[100.2,6.5],[98.4,8],[98.7,10.2],[99.5,12],[98.5,15.3]],
  ['Cambodia', [102.9,14],[105.5,14.3],[107.5,15],[107.5,13],[106,11],[104.8,10.3],[102.5,12.2]],
  ['Vietnam', [102,22.4],[105,23],[106.5,22.5],[108,21.6],[105.7,19],[107,16.8],[109.2,13],[109,11.5],[106.7,10.4],[105,8.6],[104.8,10.3],[106,11],[107.5,13],[107.5,15],[106.6,16.8],[104.7,18.5],[104,20],[103,20.8]],
  ['Sri Lanka', [79.9,9.7],[81.5,8.2],[81.8,7],[80.6,5.9],[79.8,7]],
  ['Luzon', [120.5,18.5],[122.2,18.4],[122,16],[122,14.5],[124,13],[123.5,12.7],[121,13.7],[120.3,15],[120,16.5]],
  ['Mindanao', [122,7],[125.5,9.8],[126.5,7.7],[125.5,5.7],[124,6.5]],
  ['Visayas', [122,11.7],[125.5,12.5],[125.5,10.2],[123.2,9.2]],
  ['Palawan', [117.2,8.5],[119.5,11.3],[119.7,10.5],[117.7,8.5]],
  ['Moldova', [26.6,48.2],[27.5,48.4],[30,46.4],[28.2,45.5]],
  ['Belarus', [23.6,52],[23.6,51.5],[30,51.5],[32,52.3],[31.5,53.2],[31,55],[28,56],[26.5,55.5],[25.5,54.3],[23,54.3]],
  ['Australia', [114.2,-22],[113.6,-26],[115,-31],[115,-34.3],[118,-35],[123.5,-33.9],[126,-32.3],[131,-31.5],[134,-32.8],[135.7,-34.8],[137.7,-33],[137.2,-35.3],[140,-37.5],[143.5,-38.8],[146.3,-39],[150,-37.4],[151.5,-33.5],[153,-31],[153,-26],[150.8,-23],[146.5,-19],[145.3,-15],[143.5,-14],[142.5,-10.7],[141.7,-13],[141.5,-16],[139.5,-17.5],[135.5,-15],[136.8,-12.2],[131,-12.2],[129.5,-15],[127,-14],[125,-15.5],[122,-18],[120,-20],[117,-20.7]],
  ['Tasmania', [144.7,-40.7],[148.3,-40.9],[148,-43],[146,-43.6]]
];

const highLand = [
  ['Mauritania', [-17,21.3],[-13,21.3],[-12,23.4],[-12,26],[-8.7,26],[-8.7,27.3],[-6.5,25],[-5.5,15.5],[-9.3,15.5],[-12.2,14.8],[-14,16.6],[-16.5,16],[-16.2,19]],
  ['Ethiopia', [38.6,18],[39.7,15],[43.1,12.7],[42.8,11],[43,9.6],[48,8],[45,5],[42,4.3],[41,3.9],[39.5,3.5],[35.9,4.6],[33.2,7.8],[34,8.5],[35,10.5],[36,12.7],[36.5,14.3]],
  ['Malawi', [32.9,-9.4],[34.6,-9.6],[34.9,-11.6],[35,-14],[35.8,-16],[35.2,-17.1],[34.3,-15.8],[33,-13.5],[33.5,-10.5]],
  ['Mozambique', [40.4,-10.4],[40.8,-14.5],[37,-17.7],[35,-20],[35.5,-22],[35.5,-24],[33,-25.4],[32.8,-26.8],[32,-26.8],[32,-24.5],[31,-22.4],[32.8,-21],[32.8,-19],[33,-16.1],[30.3,-15],[33,-13.5],[34.3,-15.8],[35.2,-17.1],[35.8,-16],[35,-14],[34.9,-11.6],[38,-11.3]],
  ['Zimbabwe', [30.3,-15],[33,-16.1],[32.8,-19],[32.8,-21],[31,-22.4],[29.4,-22.2],[27.7,-20.5],[25.3,-17.9],[27,-18],[28.8,-16.3]],
  ['Botswana', [25.3,-17.9],[27.7,-20.5],[29.4,-22.2],[26.8,-24.3],[25.5,-25.7],[23,-25.3],[20.9,-26.8],[20,-24.8],[20,-22],[21,-22],[21,-18.2],[23.4,-17.6],[25.2,-17.8]],
  ['Swaziland', [30.8,-25.8],[32,-26],[32,-27.2],[30.9,-27]],
  ['India', [77.8,35.5],[79,34],[78.9,31.5],[81,30.2],[80,28.8],[83.3,27.3],[88,26.4],[88.2,27.9],[88.8,27],[92,26.8],[97,28.2],[97.3,27.8],[95,25.5],[94,23],[93,22],[92.2,23.7],[92.3,24.9],[89.8,25.9],[88.2,24.5],[89,21.8],[87,21.4],[85,19.5],[80.2,15.5],[80.2,13],[79.8,10.3],[77.5,8],[76.2,10],[74.5,14],[73,19],[72.7,21],[70.5,20.8],[69,22.3],[68.2,23.7],[71,24.6],[70.5,28],[73.5,29],[74.5,31],[75.5,32.5]],
  ['Bangladesh', [88.2,24.5],[89.8,25.9],[92.3,24.9],[92.2,23.7],[92.5,20.8],[91,22.5],[89,21.8]],
  ['China', [73.7,39.5],[75,40.5],[80,42],[80.5,45],[82.5,45.3],[83,47.2],[85.5,47],[87.8,49.2],[91,46.5],[90.8,45],[96,43],[105,41.7],[110,43],[111.8,45],[116,46.5],[119.8,46.7],[116,48],[117.5,49.6],[120,53.3],[123.5,53.5],[126,52.8],[127.5,49.8],[131,47.7],[135,48.4],[131,44.9],[131,43],[130.5,42.5],[128,41.8],[124.3,40],[121.5,38.9],[122,40.5],[118,39.1],[119,37.3],[122.5,37],[119.5,35],[122,31.5],[121.5,28.5],[118,24.5],[114,22.3],[110,21],[108,21.6],[106.5,22.5],[105,23],[102,22.4],[101.2,21.3],[99.5,22],[98,24],[98.7,27.5],[97.3,28.3],[92,27.8],[89.5,28],[88.2,27.9],[85,28.5],[81,30.2],[78.9,31.5],[79,34],[77.8,35.5],[74.9,37.4]],
  ['Hainan', [108.7,19.5],[110.5,20.1],[110.5,18.8],[109.5,18.2]],
  ['Laos', [101.2,21.3],[102,22.4],[103,20.8],[104,20],[104.7,18.5],[106.6,16.8],[107.5,15],[105.5,14.3],[105.6,15],[104.7,17.4],[102.5,18],[101,17.5],[100.2,20.3]],
  ['Fiji', [177.3,-17.8],[178.7,-17.7],[178.3,-18.2]]
];

// small islands too little to outline
const islets = [[-16,28],[-14,28.5],[-24,16],[-23.5,15],[-28,38.5],[-91,-0.5],[-17,32.7],[73,4],[55.5,-4.6],[57.5,-20.2],[55.5,-21],[44,-12],[6.7,0.2],[8.7,3.5],[-172,-13.7],[-149.5,-17.6],[-37,-54.3],[70,-49.3],[145,13.5],[158,7],[167,-15.5],[168,-17],[-65,32],[-77,24.5],[-76,25],[-74,22.5],[-61,15],[-61.5,12],[-61,14],[-61.3,10.4],[-61,-51.7],[-58.5,-51.6],[-7,62],[92.5,12],[93,8],[-159.5,22],[165,-9],[177,-15],[-175,-21],[147,44.5],[150,46],[153,48],[155,50]];

const robinsonWidth = [1,.9986,.9954,.99,.9822,.973,.96,.9427,.9216,.8962,.8679,.835,.7986,.7597,.7186,.6732,.6213,.5722,.5322];
const robinsonDrop = [0,.062,.124,.186,.248,.31,.372,.434,.4958,.5571,.6176,.6769,.7346,.7903,.8435,.8936,.9394,.9761,1];

/* PROJECTION */
// Robinson, narrowed a little in x and in the north to sit on the reference map
function robinsonRaw(lambda, phi) {
  let deg = Math.abs(phi) * 180 / Math.PI;
  let i = Math.min(Math.floor(deg / 5), 17);
  let t = deg / 5 - i;
  let w = robinsonWidth[i] + t * (robinsonWidth[i + 1] - robinsonWidth[i]);
  let d = robinsonDrop[i] + t * (robinsonDrop[i + 1] - robinsonDrop[i]);
  return [0.8355 * w * lambda, (phi < 0 ? -1 : 0.985) * 1.3523 * d];
}

const projection = d3.geoProjection(robinsonRaw).scale(345).translate([1003, 794]);
const ringLine = d3.line().curve(d3.curveLinearClosed);
const svg = d3.select('svg');
const defs = svg.append('defs');

/* SLIDE BACKGROUND */
let pattern = defs.append('pattern').attr('id', 'weave')
  .attr('width', 28).attr('height', 28).attr('patternUnits', 'userSpaceOnUse');
pattern.append('rect').attr('width', 28).attr('height', 28).attr('fill', '#CBEF94');
pattern.append('path').attr('d', 'M0 0L14 14L28 0M0 28L14 14L28 28M0 14L7 7M14 0L21 7M7 21L14 28M21 21L28 14M7 7L14 0M21 7L28 14M0 14L7 21M14 28L21 21')
  .attr('fill', 'none').attr('stroke', '#B5E27C').attr('stroke-width', 1.5);

defs.append('filter').attr('id', 'soft')
  .append('feGaussianBlur').attr('stdDeviation', 0.8);

svg.append('rect').attr('x', 34).attr('y', 312).attr('width', 1979).attr('height', 1118).attr('fill', 'url(#weave)');
svg.append('circle').attr('cx', 1024).attr('cy', 283).attr('r', 70).attr('fill', '#fff');
svg.append('rect').attr('x', 102).attr('y', 342).attr('width', 1833).attr('height', 1024).attr('fill', '#fff');
svg.append('rect').attr('x', 34).attr('y', 1430).attr('width', 1979).attr('height', 72).attr('fill', '#FF6A00');
svg.append('rect').attr('x', 34).attr('y', 35).attr('width', 1979).attr('height', 1467)
  .attr('fill', 'none').attr('stroke', '#D9601A').attr('stroke-width', 2);

[[34, 956], [1092, 2013]].forEach(function(d) {
  svg.append('line').attr('x1', d[0]).attr('x2', d[1]).attr('y1', 285.5).attr('y2', 285.5)
    .attr('stroke', '#CC6422').attr('stroke-width', 2.4).attr('stroke-dasharray', '4 1.5');
});
[51, 45].forEach(function(r) {
  svg.append('circle').attr('cx', 1024).attr('cy', 283).attr('r', r)
    .attr('fill', 'none').attr('stroke', '#D9601A').attr('stroke-width', 4);
});

/* TITLE */
svg.selectAll('.title').data(titleLines).enter().append('text')
  .attr('class', 'title')
  .attr('x', 1023)
  .attr('y', function(d, i) { return 129 + i * 68; })
  .attr('text-anchor', 'middle')
  .attr('font-size', 56.8)
  .attr('fill', '#0070C0')
  .text(function(d) { return d; });

/* MAP */
let map = svg.append('g').attr('filter', 'url(#soft)');

[lowLand, midLand, highLand].forEach(function(band, b) {
  map.append('g').selectAll('path').data(band).enter().append('path')
    .attr('d', function(d) { return ringLine(d.slice(1).map(projection)); })
    .attr('fill', bandColors[b])
    .attr('stroke', bandStrokes[b])
    .attr('stroke-width', 1.5)
    .attr('stroke-linejoin', 'round');
});

map.append('g').selectAll('path').data(fringeLand).enter().append('path')
  .attr('d', function(d) { return ringLine(d.slice(1).map(projection)); })
  .attr('fill', bandColors[0])
  .attr('stroke', '#4c4f44')
  .attr('stroke-width', 2.6)
  .attr('stroke-linejoin', 'round');

map.append('g').selectAll('circle').data(islets).enter().append('circle')
  .attr('cx', function(d) { return projection(d)[0]; })
  .attr('cy', function(d) { return projection(d)[1]; })
  .attr('r', 1.6)
  .attr('fill', '#8a8f98');

/* LEGEND */
const legendY = d3.scaleLinear().domain([0, 2]).range([1226, 1324]);

svg.append('text').attr('x', 1216).attr('y', 1207)
  .attr('font-size', 29).attr('font-weight', 'bold').attr('fill', '#222')
  .text(legendTitle);

let rows = svg.selectAll('.legend').data(legendLabels).enter().append('g').attr('class', 'legend');
rows.append('rect')
  .attr('x', 1212)
  .attr('y', function(d, i) { return legendY(i); })
  .attr('width', 71).attr('height', 37)
  .attr('fill', function(d, i) { return bandColors[i]; })
  .attr('stroke', '#8a8a70').attr('stroke-width', 1);
rows.append('text')
  .attr('x', function(d, i) { return i == 1 ? 1287 : 1289; })
  .attr('y', function(d, i) { return legendY(i) + 29; })
  .attr('font-size', 29).attr('fill', '#444')
  .text(function(d) { return d; });
</script>
</body>
</html>
